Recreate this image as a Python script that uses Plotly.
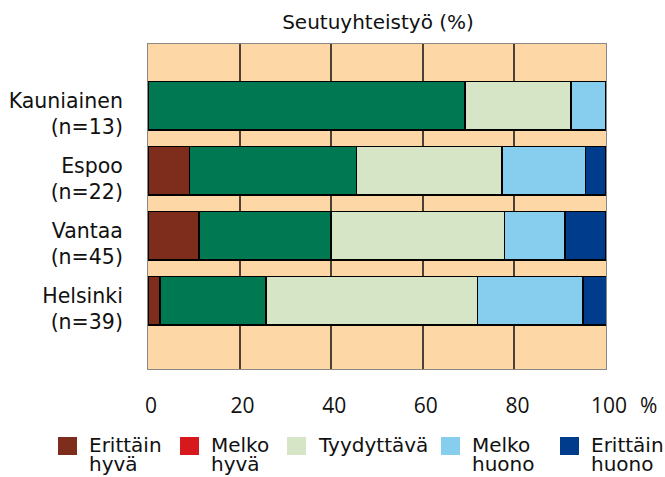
import plotly.graph_objects as go

categories = ["Helsinki<br>(n=39)", "Vantaa<br>(n=45)", "Espoo<br>(n=22)", "Kauniainen<br>(n=13)"]
legend_lines = [("Erittäin", "hyvä"), ("Melko", "hyvä"), ("Tyydyttävä", ""), ("Melko", "huono"), ("Erittäin", "huono")]
erittain_hyva = [2.6, 11.1, 9.1, 0.0]
melko_hyva = [23.1, 28.9, 36.4, 69.2]
tyydyttava = [46.2, 37.8, 31.8, 23.1]
melko_huono = [23.1, 13.3, 18.2, 7.7]
erittain_huono = [5.1, 8.9, 4.5, 0.0]
legend_colors = ["#7e2d1c", "#d7191e", "#d5e5c5", "#87ceee", "#003c8c"]
bar_colors = ["#7e2d1c", "#007852", "#d5e5c5", "#87ceee", "#003c8c"]
x_ticks = [0, 20, 40, 60, 80, 100]

# layout constants (pixels)
W, H = 665, 477
L, R, T, B = 148, 59, 44, 108
PW, PH = W - L - R, H - T - B
legend_sq_x = [58, 180, 287, 441, 560]
SQ_W, SQ_H = 19, 18
SQ_TOP = 437
TEXT_GAP = 10
LINE1_Y, LINE2_Y = 445, 464

FONT = "DejaVu Sans"
NUM_FONT = "Open Sans"

def px2x(px):
    return (px - L) / PW

def py2y(py):
    return (H - B - py) / PH

fig = go.Figure()
series_values = [erittain_hyva, melko_hyva, tyydyttava, melko_huono, erittain_huono]
for vals, col in zip(series_values, bar_colors):
    fig.add_trace(go.Bar(y=categories, x=vals, orientation="h", width=0.75,
                         marker=dict(color=col, line=dict(color="black", width=1.6)),
                         showlegend=False, hoverinfo="x+y"))

shapes = []
annotations = [dict(text="%", x=px2x(648), xref="paper", y=py2y(405), yref="paper",
                    showarrow=False, font=dict(family=NUM_FONT, size=21),
                    xanchor="center", yanchor="middle")]
for (l1, l2), col, sx in zip(legend_lines, legend_colors, legend_sq_x):
    shapes.append(dict(type="rect", xref="paper", yref="paper",
                       x0=px2x(sx), x1=px2x(sx + SQ_W), y0=py2y(SQ_TOP + SQ_H), y1=py2y(SQ_TOP),
                       fillcolor=col, line=dict(width=0), layer="above"))
    annotations.append(dict(text=l1, x=px2x(sx + SQ_W + TEXT_GAP), xref="paper", y=py2y(LINE1_Y),
                            yref="paper", showarrow=False, xanchor="left", yanchor="middle",
                            font=dict(family=FONT, size=20)))
    if l2:
        annotations.append(dict(text=l2, x=px2x(sx + SQ_W + TEXT_GAP), xref="paper", y=py2y(LINE2_Y),
                                yref="paper", showarrow=False, xanchor="left", yanchor="middle",
                                font=dict(family=FONT, size=20)))

fig.update_layout(
    barmode="stack",
    width=W, height=H,
    margin=dict(l=L, r=R, t=T, b=B),
    paper_bgcolor="white",
    plot_bgcolor="#fdd8a6",
    font=dict(family=FONT, size=20, color="#111"),
    showlegend=False,
    title=dict(text="Seutuyhteistyö (%)", x=px2x(378), xref="paper", xanchor="center",
               y=1 - 22 / H, yanchor="middle", font=dict(family=FONT, size=20)),
    xaxis=dict(range=[0, 100], tickvals=x_ticks, showgrid=True, gridcolor="#4d4136", gridwidth=1.6,
               zeroline=False, showline=True, linecolor="#888", mirror=True, linewidth=1,
               ticks="", ticklabelstandoff=18, ticklabelshift=3, automargin=False,
               tickfont=dict(family=NUM_FONT, size=21)),
    yaxis=dict(categoryorder="array", categoryarray=categories, range=[-1.05, 3.95],
               showgrid=False, zeroline=False, showline=True, linecolor="#888", mirror=True,
               ticks="", ticklabelstandoff=20, ticklabelshift=8, automargin=False,
               tickfont=dict(family=FONT, size=20.5)),
    shapes=shapes,
    annotations=annotations,
)
fig.write_html("out.html", post_script="document.body.style.margin='0';",
               config={"displayModeBar": False})
